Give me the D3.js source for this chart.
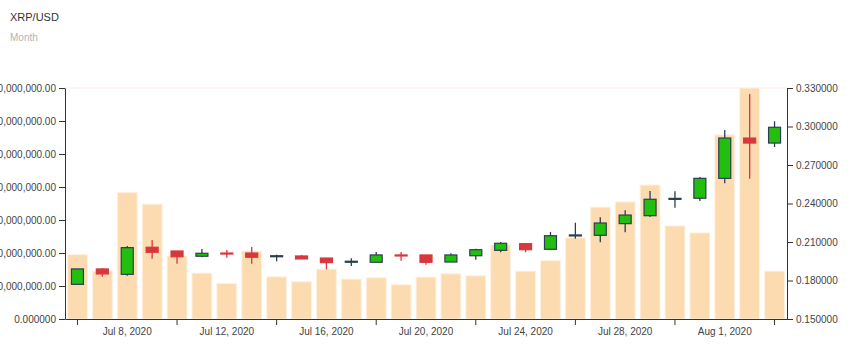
<!DOCTYPE html>
<html>
<head>
<meta charset="utf-8">
<script src="https://cdn.jsdelivr.net/npm/d3@7"></script>
<style>
  body { margin: 0; background: #fff; font-family: "Liberation Sans", Arial, sans-serif; }
  .axis text { font-size: 10px; fill: #444; font-family: "Liberation Sans", Arial, sans-serif; }
  .axis path, .axis line { stroke: #333; }
</style>
</head>
<body>
<svg id="chart" width="857" height="354"></svg>
<script>
// daily XRP/USD candles, Jul 6 - Aug 3 2020
const days = ["2020-07-06","2020-07-07","2020-07-08","2020-07-09","2020-07-10","2020-07-11","2020-07-12",
  "2020-07-13","2020-07-14","2020-07-15","2020-07-16","2020-07-17","2020-07-18","2020-07-19","2020-07-20",
  "2020-07-21","2020-07-22","2020-07-23","2020-07-24","2020-07-25","2020-07-26","2020-07-27","2020-07-28",
  "2020-07-29","2020-07-30","2020-07-31","2020-08-01","2020-08-02","2020-08-03"];
const open  = [0.1770,0.1890,0.1848,0.2059,0.2030,0.1989,0.2014,0.2014,0.1991,0.1991,0.1975,0.1947,0.1942,0.1999,0.1999,
  0.1944,0.1993,0.2035,0.2087,0.2043,0.2152,0.2152,0.2243,0.2305,0.2437,0.2441,0.2596,0.2910,0.2871];
const high  = [0.1890,0.1895,0.2069,0.2116,0.2030,0.2045,0.2038,0.2061,0.2001,0.1999,0.1975,0.1973,0.2022,0.2022,0.1999,
  0.2012,0.2048,0.2100,0.2087,0.2178,0.2250,0.2292,0.2347,0.2497,0.2495,0.2607,0.2973,0.3253,0.3041];
const low   = [0.1770,0.1830,0.1837,0.1970,0.1931,0.1981,0.1978,0.1931,0.1950,0.1968,0.1887,0.1913,0.1942,0.1954,0.1923,
  0.1944,0.1962,0.2020,0.2020,0.2043,0.2126,0.2098,0.2176,0.2295,0.2367,0.2420,0.2557,0.2593,0.2840];
const close = [0.1890,0.1851,0.2056,0.2020,0.1985,0.2012,0.2010,0.1981,0.1993,0.1968,0.1939,0.1950,0.1999,0.1995,0.1942,
  0.1999,0.2040,0.2090,0.2040,0.2149,0.2155,0.2248,0.2310,0.2433,0.2440,0.2596,0.2910,0.2871,0.2994];
const volume = [1.95e9,1.45e9,3.84e9,3.48e9,1.91e9,1.39e9,1.08e9,2.06e9,1.28e9,1.13e9,1.51e9,1.21e9,1.25e9,1.04e9,1.27e9,
  1.37e9,1.31e9,2.24e9,1.45e9,1.77e9,2.46e9,3.39e9,3.55e9,4.06e9,2.82e9,2.61e9,5.58e9,7.00e9,1.45e9];

const tickDays  = ["2020-07-06","2020-07-10","2020-07-14","2020-07-18","2020-07-22","2020-07-26","2020-07-30","2020-08-03"];
const labelDays = ["2020-07-08","2020-07-12","2020-07-16","2020-07-20","2020-07-24","2020-07-28","2020-08-01"];
const volTicks   = [0,1e9,2e9,3e9,4e9,5e9,6e9,7e9];
const priceTicks = [0.15,0.18,0.21,0.24,0.27,0.30,0.33];

const svg = d3.select("#chart");
const margin = { left: 65, right: 787, top: 88, bottom: 319 };

const x = d3.scaleBand().domain(days).range([margin.left, margin.right]).paddingInner(0.2).paddingOuter(0.1);
const yVol = d3.scaleLinear().domain([0, 7e9]).range([margin.bottom, margin.top]);
const yP = d3.scaleLinear().domain([0.15, 0.33]).range([margin.bottom, margin.top]);

const parse = d3.timeParse("%Y-%m-%d");
const fmtDay = d3.timeFormat("%b %-d, %Y");

// title
svg.append("text").attr("x", 10).attr("y", 21).attr("font-size", 11).attr("fill", "#333").text("XRP/USD");
svg.append("text").attr("x", 10).attr("y", 41).attr("font-size", 10).attr("fill", "#b3b3b3").text("Month");

// faint top border
svg.append("line").attr("x1", margin.left).attr("x2", margin.right)
  .attr("y1", margin.top).attr("y2", margin.top)
  .attr("stroke", "#fbeee6");

// volume bars
svg.append("g").selectAll("rect")
  .data(days)
  .join("rect")
  .attr("x", d => x(d))
  .attr("width", x.bandwidth())
  .attr("y", (d, i) => yVol(volume[i]))
  .attr("height", (d, i) => margin.bottom - yVol(volume[i]))
  .attr("fill", "#fddbb0")
  .attr("stroke", "#fff1e2")
  .attr("stroke-width", 1);

// candles
const up = "#22bf10", down = "#d7373d", edge = "#2c3e50";
const bodyW = 12;
const candles = svg.append("g").selectAll("g")
  .data(days)
  .join("g");

candles.append("line")
  .attr("x1", d => x(d) + x.bandwidth() / 2)
  .attr("x2", d => x(d) + x.bandwidth() / 2)
  .attr("y1", (d, i) => yP(high[i]))
  .attr("y2", (d, i) => yP(low[i]))
  .attr("stroke", (d, i) => close[i] >= open[i] ? edge : down)
  .attr("stroke-width", 1.3);

candles.append("rect")
  .attr("x", d => x(d) + x.bandwidth() / 2 - bodyW / 2)
  .attr("width", bodyW)
  .attr("y", (d, i) => yP(Math.max(open[i], close[i])))
  .attr("height", (d, i) => Math.max(1, Math.abs(yP(open[i]) - yP(close[i]))))
  .attr("fill", (d, i) => close[i] >= open[i] ? up : down)
  .attr("stroke", (d, i) => close[i] >= open[i] ? edge : down)
  .attr("stroke-width", 1.2);

// axes
svg.append("g").attr("class", "axis")
  .attr("transform", `translate(${margin.left},0)`)
  .call(d3.axisLeft(yVol).tickValues(volTicks).tickSizeOuter(0)
    .tickFormat(v => v === 0 ? "0.000000" : d3.format(",.2f")(v)));

svg.append("g").attr("class", "axis")
  .attr("transform", `translate(${margin.right},0)`)
  .call(d3.axisRight(yP).tickValues(priceTicks).tickSizeOuter(0).tickFormat(d3.format(".6f")));

svg.append("g").attr("class", "axis")
  .attr("transform", `translate(0,${margin.bottom})`)
  .call(d3.axisBottom(x).tickValues(tickDays).tickSizeOuter(0).tickFormat(""));

svg.append("g").attr("class", "axis")
  .attr("transform", `translate(0,${margin.bottom})`)
  .call(d3.axisBottom(x).tickValues(labelDays).tickFormat(d => fmtDay(parse(d))))
  .call(g => g.select(".domain").remove())
  .call(g => g.selectAll(".tick line").remove());
</script>
</body>
</html>
